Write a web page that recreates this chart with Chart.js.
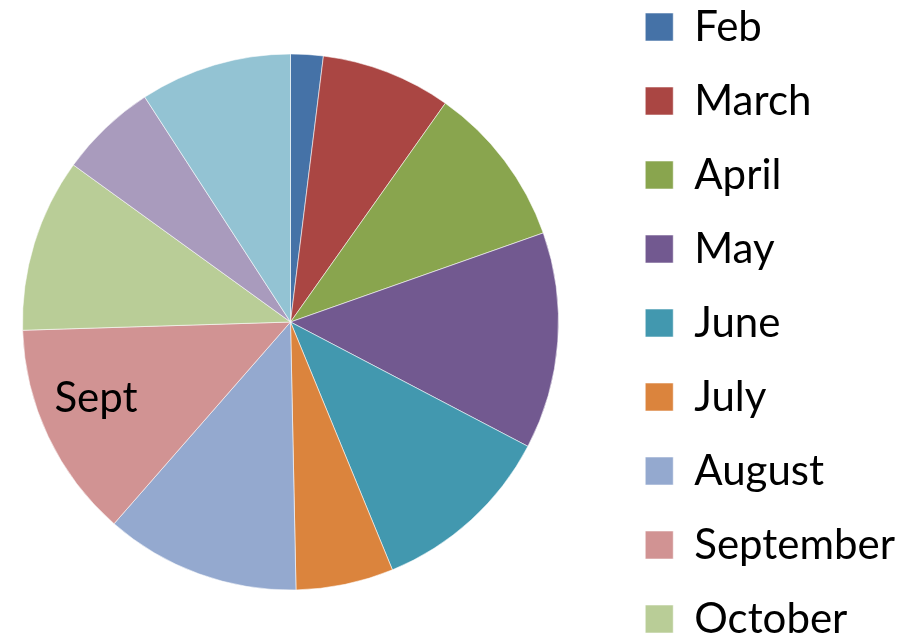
<!DOCTYPE html>
<html>
<head>
<meta charset="utf-8">
<script src="https://cdn.jsdelivr.net/npm/chart.js@4.4.1/dist/chart.umd.min.js"></script>
<style>
  html, body { margin: 0; padding: 0; background: #fff; overflow: hidden; }
  body { width: 902px; height: 634px; }
  /* the original is a crop: legend starts a bit above the top, and runs off the right edge */
  #monthPie { display: block; margin-top: -26px; }
</style>
</head>
<body>
<canvas id="monthPie" width="905" height="900"></canvas>
<script>
const months = ['Feb', 'March', 'April', 'May', 'June', 'July', 'August', 'September', 'October', 'November', 'December'];
const counts = [3, 12, 15, 20, 17, 9, 18, 20, 16, 9, 14];
const sliceColors = ['#4572A7', '#AA4643', '#89A54E', '#725990', '#4298AF', '#DB843D', '#94A9CF', '#D19393', '#B9CD97', '#A99BBD', '#93C3D3'];
const sliceLabels = ['', '', '', '', '', '', '', 'Sept', '', '', ''];

const FONT = 'Lato';
const FONT_SIZE = 42;

// put the pie top-left, the legend keeps the full canvas height on the right
const pieArea = {
    id: 'pieArea',
    afterLayout(chart) {
        const area = chart.chartArea;
        area.left = 0;
        area.right = 581;
        area.top = 0;
        area.bottom = 696;
        area.width = area.right - area.left;
        area.height = area.bottom - area.top;
    }
};

// the one data label ("Sept") inside its slice, a little past the middle angle like Excel's
const sliceText = {
    id: 'sliceText',
    afterDatasetsDraw(chart) {
        const ctx = chart.ctx;
        const meta = chart.getDatasetMeta(0);
        ctx.save();
        ctx.font = FONT_SIZE + 'px ' + FONT;
        ctx.fillStyle = '#000';
        ctx.textAlign = 'center';
        ctx.textBaseline = 'middle';
        meta.data.forEach((arc, i) => {
            if (!sliceLabels[i]) return;
            const p = arc.getProps(['x', 'y', 'startAngle', 'endAngle', 'outerRadius'], true);
            const ang = p.startAngle + (p.endAngle - p.startAngle) * 0.58;
            const r = p.outerRadius * 0.78;
            ctx.fillText(sliceLabels[i], p.x + Math.cos(ang) * r, p.y + Math.sin(ang) * r);
        });
        ctx.restore();
    }
};

const ctx = document.getElementById('monthPie').getContext('2d');

new Chart(ctx, {
    type: 'pie',
    data: {
        labels: months,
        datasets: [{
            data: counts,
            backgroundColor: sliceColors,
            borderColor: 'rgba(255,255,255,0.55)',
            borderWidth: 1
        }]
    },
    options: {
        responsive: false,
        animation: false,
        events: [],
        radius: 268,
        layout: { autoPadding: false },
        plugins: {
            tooltip: { enabled: false },
            legend: {
                position: 'right',
                align: 'start',
                labels: {
                    boxWidth: 28,
                    boxHeight: 28,
                    padding: 74 - FONT_SIZE,
                    color: '#000',
                    font: { family: FONT, size: FONT_SIZE }
                }
            }
        }
    },
    plugins: [pieArea, sliceText]
});
</script>
</body>
</html>
